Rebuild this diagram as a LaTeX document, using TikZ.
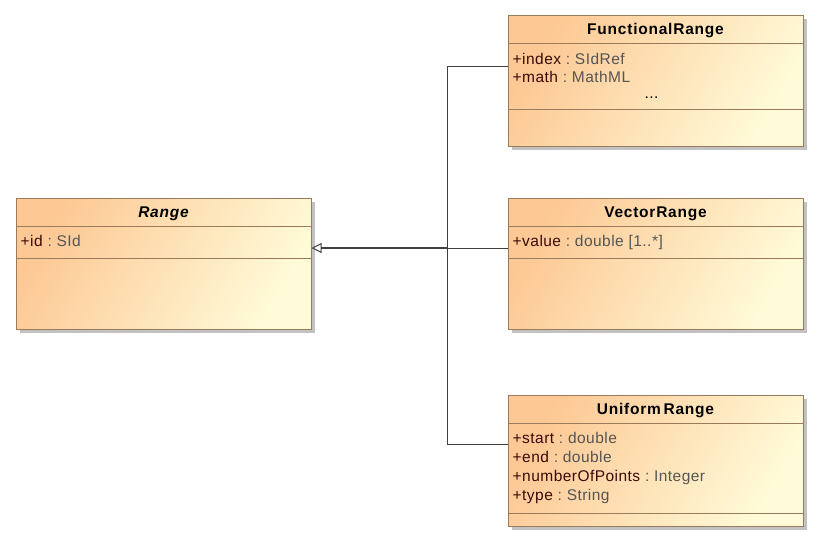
\documentclass[tikz,border=0pt]{standalone}
\usepackage{fontspec}
\setmainfont{Liberation Sans}
\newfontfamily\umlfont[LetterSpace=3]{Liberation Sans}
\newfontfamily\umlheadfont[LetterSpace=5]{Liberation Sans}
\usetikzlibrary{calc, shadows, arrows.meta, positioning}

\definecolor{umlorange}{HTML}{FDC894}
\definecolor{umlyellow}{HTML}{FFFBD8}
\definecolor{umlborder}{HTML}{9A7B5C}
\definecolor{umlshadow}{HTML}{C2C2C2}
\definecolor{umlline}{HTML}{404040}
\definecolor{attrname}{HTML}{3A0A0A}
\definecolor{attrtype}{HTML}{555555}

\newcommand{\attr}[2]{\textcolor{attrname}{#1}\textcolor{attrtype}{\ :\ #2}}

\begin{document}
\begin{tikzpicture}[x=1pt, y=-1pt,
    classbox/.style = {rectangle, draw=umlborder, line width=1pt,
        left color=umlorange, right color=umlyellow, shading angle=60,
        minimum width=295pt, minimum height=131pt, inner sep=0pt,
        drop shadow={shadow xshift=4pt, shadow yshift=-4pt, fill=umlshadow, opacity=1}},
    classname/.style = {font=\umlheadfont\bfseries\fontsize{15.5}{19}\selectfont, inner sep=0pt},
    attr/.style = {font=\umlfont\fontsize{15.5}{19}\selectfont, anchor=base west, inner sep=0pt},
    sep/.style = {draw=umlborder, line width=1pt},
    assoc/.style = {draw=umlline, line width=1pt},
    inherit/.style = {draw=umlline, line width=1.4pt, -{Triangle[open, length=10pt, width=10pt, line width=1pt]}}]
    \useasboundingbox (0,0) rectangle (819,542);

    % classes
    \node[classbox] (range) at (163.5, 263.5) {};
    \node[classbox] (fr) at (655.5, 80.5) {};
    \node[classbox] (vr) at (655.5, 263.5) {};
    \node[classbox] (ur) at (655.5, 460.5) {};

    % compartments
    \foreach \c/\s in {range/32, fr/66, vr/32, ur/90} {
        \draw[sep] ([yshift=-29pt]\c.north west) -- ([yshift=-29pt]\c.north east);
        \draw[sep] ([yshift={-(29+\s)*1pt}]\c.north west) -- ([yshift={-(29+\s)*1pt}]\c.north east);
    }

    % names
    \node[classname] at ([yshift=-16.5pt]range.north) {\itshape Range};
    \node[classname] at ([yshift=-16.5pt]fr.north) {FunctionalRange};
    \node[classname] at ([yshift=-16.5pt]vr.north) {VectorRange};
    \node[classname] at ([yshift=-16.5pt]ur.north) {Uniform\,Range};

    % attributes
    \node[attr] at ([xshift=5pt, yshift=-48.5pt]range.north west) {\attr{+id}{SId}};
    \node[attr] at ([xshift=5pt, yshift=-48.5pt]vr.north west) {\attr{+value}{double [1..*]}};
    \foreach \n/\t [count=\i] in {+index/SIdRef, +math/MathML}
        \node[attr] at ([xshift=5pt, yshift={-(49.5+18*(\i-1))*1pt}]fr.north west) {\attr{\n}{\t}};
    \node[attr, anchor=base, text=black] at ([xshift=-4pt, yshift=-84pt]fr.north) {...};
    \foreach \n/\t [count=\i] in {+start/double, +end/double, +numberOfPoints/Integer, +type/String}
        \node[attr] at ([xshift=5pt, yshift={-(48.5+19*(\i-1))*1pt}]ur.north west) {\attr{\n}{\t}};

    % generalization
    \coordinate (trunk) at (447, 248);
    \draw[assoc] ([yshift=14.5pt]fr.west) -| (trunk);
    \draw[assoc] ([yshift=16.5pt]ur.west) -| (trunk);
    \draw[assoc] ([yshift=15.5pt]vr.west) -- (trunk);
    \draw[inherit] (trunk) -- (range.east |- trunk);
\end{tikzpicture}
\end{document}
